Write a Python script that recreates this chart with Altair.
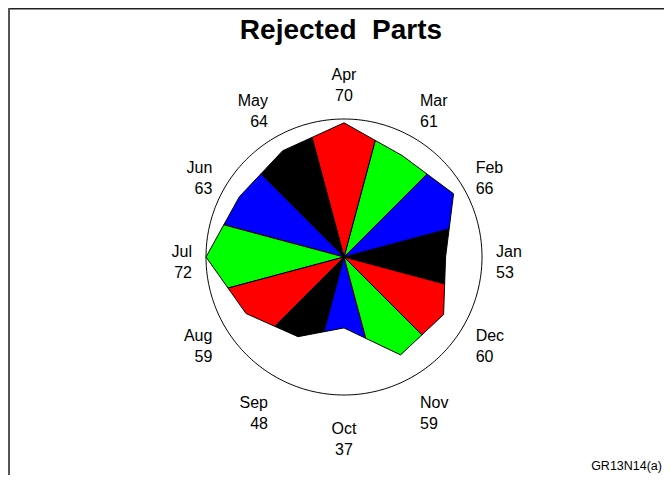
import math
import altair as alt
import pandas as pd

# ---- data ----
months = ["Jan", "Feb", "Mar", "Apr", "May", "Jun",
          "Jul", "Aug", "Sep", "Oct", "Nov", "Dec"]
rejected = [53, 66, 61, 70, 64, 63, 72, 59, 48, 37, 59, 60]
colors = ["#000000", "#0000FF", "#00FF00", "#FF0000"] * 3
title_text = "Rejected\u00a0 Parts"
footnote = "GR13N14(a)"

# ---- layout (pixels) ----
W, H = 656, 467
CX, CY = 336, 249          # centre of the star inside the plot area
R_PX = 138                 # radius of the circle (max value)
vmax = max(rejected)
s = R_PX / vmax            # pixels per data unit
LAB_RX = 152               # label anchor distance (px)
LAB_RY_A, LAB_RY_B = 165, 12
LINE_GAP = 21

n = len(months)
step = 2 * math.pi / n

def ang(i):
    return i * step

# wedge polygons
rows = []
for i in range(n):
    a = rejected[i]
    prev_v = rejected[(i - 1) % n]
    next_v = rejected[(i + 1) % n]
    phi = step / 2
    d_prev = 2 * a * prev_v * math.cos(phi) / (a + prev_v)
    d_next = 2 * a * next_v * math.cos(phi) / (a + next_v)
    th = ang(i)
    pts = [
        (0.0, 0.0),
        (d_prev * math.cos(th - phi), d_prev * math.sin(th - phi)),
        (a * math.cos(th), a * math.sin(th)),
        (d_next * math.cos(th + phi), d_next * math.sin(th + phi)),
        (0.0, 0.0),
    ]
    for k, (x, y) in enumerate(pts):
        rows.append({"month": months[i], "color": colors[i], "ord": k, "x": x, "y": y})
wedges = pd.DataFrame(rows)

# circle
circ = pd.DataFrame([
    {"ord": k, "x": vmax * math.cos(2 * math.pi * k / 360),
     "y": vmax * math.sin(2 * math.pi * k / 360)} for k in range(361)
])

# labels
lab_rows = []
for i in range(n):
    th = ang(i)
    c = math.cos(th)
    sn = math.sin(th)
    if abs(c) < 1e-6:
        al = "center"
    elif c > 0:
        al = "left"
    else:
        al = "right"
    lab_rows.append({
        "month": months[i], "value": str(rejected[i]), "align": al,
        "x": LAB_RX * c / s, "y": (LAB_RY_A * sn + LAB_RY_B * sn ** 3) / s,
    })
labels = pd.DataFrame(lab_rows)

xdom = [-CX / s, (W - CX) / s]
ydom = [-(H - CY) / s, CY / s]
X = alt.X("x:Q", scale=alt.Scale(domain=xdom, nice=False, zero=False), axis=None)
Y = alt.Y("y:Q", scale=alt.Scale(domain=ydom, nice=False, zero=False), axis=None)

wedge_layer = alt.Chart(wedges).mark_line(strokeWidth=1, stroke="black", strokeJoin="miter").encode(
    x=X, y=Y, order="ord:Q", detail="month:N",
    fill=alt.Fill("color:N", scale=None),
)

circle_layer = alt.Chart(circ).mark_line(stroke="black", strokeWidth=1).encode(
    x=X, y=Y, order="ord:Q"
)

text_layers = []
for al in ["left", "center", "right"]:
    sub = labels[labels["align"] == al]
    base = alt.Chart(sub)
    text_layers.append(base.mark_text(align=al, baseline="alphabetic", font="Liberation Sans",
                                      fontSize=16, color="black").encode(x=X, y=Y, text="month:N"))
    text_layers.append(base.mark_text(align=al, baseline="alphabetic", font="Liberation Sans",
                                      fontSize=16, color="black", dy=LINE_GAP).encode(x=X, y=Y, text="value:N"))

one = pd.DataFrame({"t": [title_text], "f": [footnote]})
title_layer = alt.Chart(one).mark_text(font="Liberation Sans", fontSize=28, fontWeight="bold",
                                       align="center", baseline="alphabetic", color="black").encode(
    x=alt.value(333), y=alt.value(31), text="t:N")
foot_layer = alt.Chart(one).mark_text(font="Liberation Sans", fontSize=12.5,
                                      align="right", baseline="alphabetic", color="black").encode(
    x=alt.value(654), y=alt.value(462), text="f:N")

frame_top = alt.Chart(one).mark_rule(stroke="#222222", strokeWidth=1.5).encode(
    x=alt.value(0), x2=alt.value(W), y=alt.value(0.75))
frame_left = alt.Chart(one).mark_rule(stroke="#555555", strokeWidth=2).encode(
    x=alt.value(1), y=alt.value(0), y2=alt.value(H))

chart = alt.layer(
    circle_layer, wedge_layer, *text_layers, title_layer, foot_layer, frame_top, frame_left
).properties(
    width=W, height=H, autosize=alt.AutoSizeParams(type="none"), padding=0
).configure_view(stroke=None).configure(background="white")

chart.save("out.html", embed_options={"renderer": "svg", "actions": False})
